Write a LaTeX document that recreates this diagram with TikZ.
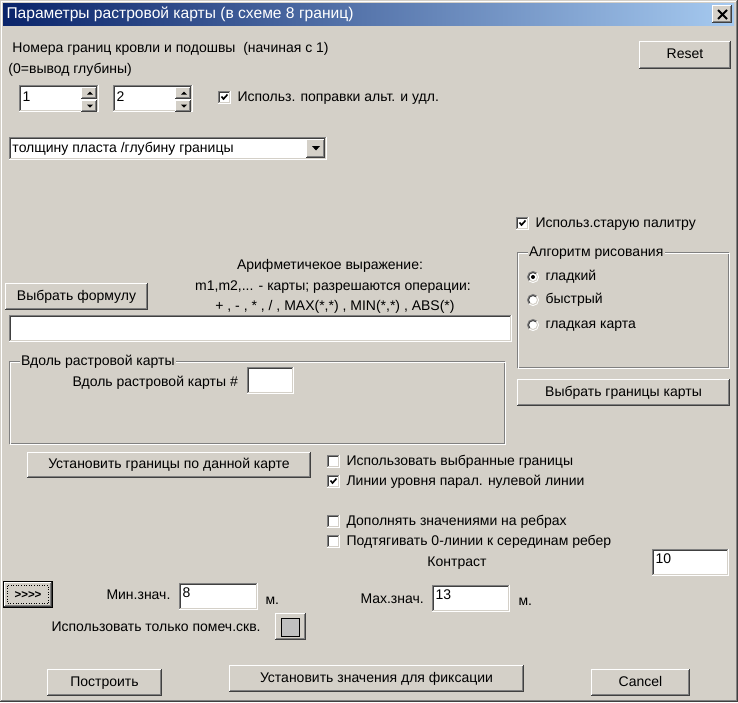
\documentclass[tikz,border=0pt]{standalone}
\usepackage{fontspec}
\setmainfont{Liberation Sans}
\definecolor{dlgbg}{HTML}{D4D0C8}
\definecolor{dshadow}{HTML}{808080}
\definecolor{ddark}{HTML}{404040}
\definecolor{tbleft}{HTML}{0A246A}
\definecolor{tbright}{HTML}{A6CAF0}
\definecolor{swatch}{HTML}{C0C0C0}
\newcommand\uiraised[4]{%
  \fill[dlgbg] (#1,#2) rectangle (#3,#4);
  \draw[white] (#1+0.5,#4-1) -- (#1+0.5,#2+0.5) -- (#3-1,#2+0.5);
  \draw[ddark] (#1,#4-0.5) -- (#3-0.5,#4-0.5) -- (#3-0.5,#2);
  \draw[dshadow] (#1+1,#4-1.5) -- (#3-1.5,#4-1.5) -- (#3-1.5,#2+1);
}
\newcommand\uisunken[5]{%
  \fill[#5] (#1,#2) rectangle (#3,#4);
  \draw[dshadow] (#1+0.5,#4-1) -- (#1+0.5,#2+0.5) -- (#3-1,#2+0.5);
  \draw[ddark] (#1+1.5,#4-2) -- (#1+1.5,#2+1.5) -- (#3-2,#2+1.5);
  \draw[white] (#1,#4-0.5) -- (#3-0.5,#4-0.5) -- (#3-0.5,#2);
  \draw[dlgbg] (#1+1,#4-1.5) -- (#3-1.5,#4-1.5) -- (#3-1.5,#2+1);
}
\newcommand\uibutton[6]{%
  \uiraised{#2}{#3}{#4}{#5}
  \node[lbl,anchor=center] (#1) at ({(#2+#4)/2},{(#3+#5)/2}) {#6};
}
\newcommand\uicheckbox[4]{%
  \uisunken{#2}{#3}{#2+13}{#3+13}{white}
  \node[lbl] (#1) at (#2+19,#3+6.5) {#4};
}
\newcommand\uitick[2]{%
  \draw[black,line width=1.6pt] (#1+3.5,#2+5.5) -- (#1+5.5,#2+8) -- (#1+9.5,#2+3.5);
}
\newcommand\uiradio[4]{%
  \fill[white] (#2,#3) circle (5.5);
  \draw[dshadow] (#2,#3) ++(135:5.5) arc (135:315:5.5);
  \draw[ddark] (#2,#3) ++(135:4.5) arc (135:315:4.5);
  \draw[white] (#2,#3) ++(-45:5.5) arc (-45:135:5.5);
  \draw[dlgbg] (#2,#3) ++(-45:4.5) arc (-45:135:4.5);
  \node[lbl] (#1) at (#2+12,#3) {#4};
}
\newcommand\uigroup[6]{%
  \draw[dshadow] (#2+0.5,#3+0.5) rectangle (#4-1.5,#5-1.5);
  \draw[white] (#2+1.5,#3+1.5) rectangle (#4-0.5,#5-0.5);
  \node[lbl,fill=dlgbg,inner xsep=1.5pt,inner ysep=0pt] (#1) at (#2+10,#3+1) {#6};
}
\newcommand\uispin[4]{%
  \uiraised{#1}{#2}{#3}{#2+12}
  \uiraised{#1}{#2+13}{#3}{#2+25}
  \fill[black] (#1+6,#2+7.5) -- (#1+12,#2+7.5) -- (#1+9,#2+4.5) -- cycle;
  \fill[black] (#1+6,#2+17.5) -- (#1+12,#2+17.5) -- (#1+9,#2+20.5) -- cycle;
}
\begin{document}
\begin{tikzpicture}[x=1pt,y=-1pt,line width=1pt,
  lbl/.style={inner sep=0pt,anchor=west,text height=10pt,text depth=3pt,
    font=\fontsize{14}{16}\selectfont}]
\useasboundingbox (0,0) rectangle (738,702);
\fill[dlgbg] (0,0) rectangle (738,702);
% window frame
\draw[white] (1.5,701) -- (1.5,1.5) -- (736,1.5);
\draw[ddark] (0,701.5) -- (737.5,701.5) -- (737.5,0);
\draw[dshadow] (1,700.5) -- (736.5,700.5) -- (736.5,1);
% title bar
\shade[left color=tbleft,right color=tbright] (3,3) rectangle (734,25);
\node[lbl,text=white,font=\fontsize{15.6}{18}\selectfont] (title) at (6,14.5)
  {Параметры растровой карты (в схеме 8 границ)};
\uiraised{712}{5}{732}{23}
\draw[black,line width=2pt] (718,10) -- (727,19) (727,10) -- (718,19);
% top section
\node[lbl] (hdr1) at (12,49) {Номера границ кровли и подошвы\ \ (начиная с 1)};
\node[lbl] (hdr2) at (8,70) {(0=вывод глубины)};
\uisunken{19}{85}{99}{112}{white}
\uispin{81}{87}{97}{99}
\node[lbl] (top) at (22,98) {1};
\uisunken{113}{85}{193}{112}{white}
\uispin{175}{87}{191}{99}
\node[lbl] (bottom) at (116,98) {2};
\uicheckbox{corr}{218}{91}{Использ. поправки альт. и удл.}
\uitick{218}{91}
\uisunken{9}{137}{327}{160}{white}
\node[lbl] (combo) at (12,149) {толщину пласта /глубину границы};
\uiraised{306}{139}{325}{158}
\fill[black] (312,146) -- (320,146) -- (316,150.5) -- cycle;
\uibutton{reset}{639}{41}{731}{69}{Reset}
% right column
\uicheckbox{oldpal}{516}{217}{Использ.старую палитру}
\uitick{516}{217}
\uigroup{algo}{517}{252}{730}{369}{Алгоритм рисования}
\uiradio{smooth}{533}{277}{гладкий}
\fill[black] (533,277) circle (2);
\uiradio{fast}{533}{300}{быстрый}
\uiradio{smoothmap}{533}{325}{гладкая карта}
\uibutton{mapbounds}{517}{379}{730}{406}{Выбрать границы карты}
% formula
\node[lbl,anchor=center] (ar1) at (330,266) {Арифметичекое выражение:};
\node[lbl,anchor=center] (ar2) at (333,287) {m1,m2,... - карты; разрешаются операции:};
\node[lbl,anchor=center] (ar3) at (335,307) {+ , - , * , / , MAX(*,*) , MIN(*,*) , ABS(*)};
\uibutton{formula}{5}{283}{148}{310}{Выбрать формулу}
\uisunken{9}{315}{512}{342}{white}
\uigroup{along}{9}{361}{506}{445}{Вдоль растровой карты}
\node[lbl] (alongl) at (72,383) {Вдоль растровой карты \#};
\uisunken{247}{367}{294}{394}{white}
\uibutton{setbounds}{27}{452}{311}{478}{Установить границы по данной карте}
\uicheckbox{usesel}{327}{455}{Использовать выбранные границы}
\uicheckbox{levels}{327}{475}{Линии уровня парал. нулевой линии}
\uitick{327}{475}
\uicheckbox{edges}{327}{515}{Дополнять значениями на ребрах}
\uicheckbox{pull}{327}{535}{Подтягивать 0-линии к серединам ребер}
\node[lbl,anchor=center] (contr) at (457,563) {Контраст};
\uisunken{652}{549}{729}{576}{white}
\node[lbl] (contrv) at (655,560) {10};
% min / max
\fill[black] (3,581) rectangle (53,608);
\uiraised{4}{582}{52}{607}
\draw[black,line width=0.6pt,dotted] (7.5,585.5) rectangle (48.5,603.5);
\node[lbl,anchor=center,font=\bfseries\fontsize{11.5}{13}\selectfont] (more) at (28,594.5) {{>}{>}{>}{>}};
\node[lbl] (minl) at (106,596) {Мин.знач.};
\uisunken{179}{583}{258}{610}{white}
\node[lbl] (minv) at (182,594) {8};
\node[lbl] (minu) at (265,601) {м.};
\node[lbl] (maxl) at (360,600) {Мах.знач.};
\uisunken{432}{585}{510}{612}{white}
\node[lbl] (maxv) at (435,596) {13};
\node[lbl] (maxu) at (518,602) {м.};
\node[lbl] (marked) at (51,628) {Использовать только помеч.скв.};
\uiraised{275}{613}{306}{640}
\draw[black,fill=swatch] (281.5,618.5) rectangle (299.5,636.5);
% bottom buttons
\uibutton{build}{47}{669}{162}{696}{Построить}
\uibutton{fix}{229}{665}{524}{692}{Установить значения для фиксации}
\uibutton{cancel}{591}{669}{690}{696}{Cancel}
\end{tikzpicture}
\end{document}
